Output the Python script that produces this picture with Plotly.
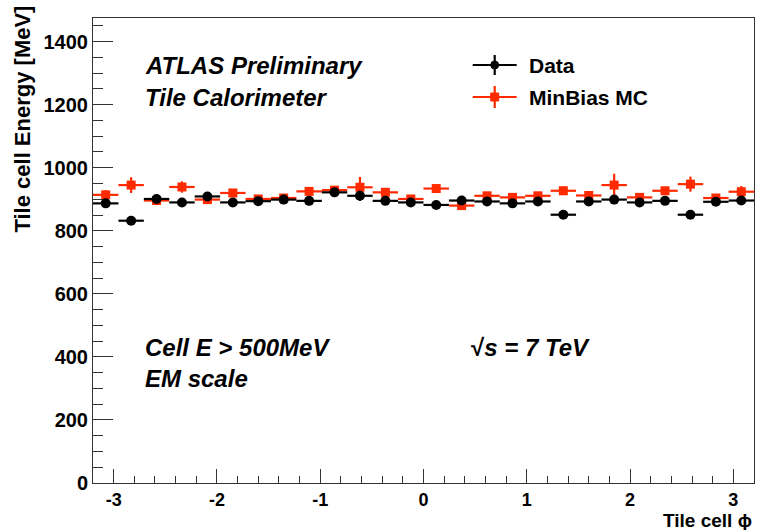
import numpy as np
import plotly.graph_objects as go

# ---- data ----
phi_min, phi_max, n_bins = -3.2, 3.2, 26
data_energy = [887, 832, 901, 890, 909, 890, 894, 899, 895, 922, 911, 895, 890,
               882, 896, 893, 887, 893, 851, 893, 899, 890, 895, 851, 892, 896]
data_err = [9, 8, 9, 9, 9, 9, 9, 9, 9, 9, 16, 9, 9,
            9, 9, 9, 9, 9, 9, 9, 9, 9, 9, 9, 9, 9]
mc_energy = [914, 945, 896, 939, 899, 920, 901, 904, 925, 929, 938, 922, 901,
             934, 880, 911, 906, 911, 927, 912, 945, 906, 927, 948, 904, 924]
mc_err = [15, 25, 10, 18, 10, 12, 10, 10, 12, 12, 33, 14, 10,
          12, 10, 12, 10, 12, 14, 10, 36, 10, 12, 24, 10, 18]
x_tick_vals = [-3, -2, -1, 0, 1, 2, 3]
y_tick_vals = [0, 200, 400, 600, 800, 1000, 1200, 1400]

bin_w = (phi_max - phi_min) / n_bins
phi = [phi_min + (i + 0.5) * bin_w for i in range(n_bins)]

RED = "#ff2a00"
FONT = "Liberation Sans"

# plot area in pixels (for paper-coordinate conversion of decorations)
L, R, T, B = 93, 754.5, 18, 483
W, H = R - L, B - T
def px(x):
    return (x - L) / W
def py(y):
    return (B - y) / H

fig = go.Figure()

fig.add_trace(go.Scatter(
    x=phi, y=mc_energy, mode="markers", name="MinBias MC",
    marker=dict(symbol="square", size=9, color=RED),
    error_x=dict(type="constant", value=bin_w / 2, width=0, thickness=2.2, color=RED),
    error_y=dict(type="data", array=mc_err, width=0, thickness=2.2, color=RED),
    showlegend=False,
))
fig.add_trace(go.Scatter(
    x=phi, y=data_energy, mode="markers", name="Data",
    marker=dict(symbol="circle", size=10, color="black"),
    error_x=dict(type="constant", value=bin_w / 2, width=0, thickness=2.2, color="black"),
    error_y=dict(type="data", array=data_err, width=0, thickness=2.2, color="black"),
    showlegend=False,
))

axis_common = dict(
    showgrid=False, zeroline=False, showline=True, linecolor="#333333",
    linewidth=1, mirror=True, ticks="inside", tickcolor="#333333",
)

fig.update_xaxes(
    range=[phi_min, phi_max], tickvals=x_tick_vals,
    ticktext=[str(v) for v in x_tick_vals], ticklen=14,
    tickfont=dict(family=FONT, size=18, color="black", weight="bold"),
    minor=dict(ticks="inside", dtick=0.2, tick0=0, ticklen=7, tickcolor="#333333"),
    **axis_common,
)
fig.update_yaxes(
    range=[0, 1475], tickvals=y_tick_vals,
    ticktext=[str(v) for v in y_tick_vals], ticklen=20,
    tickfont=dict(family=FONT, size=20, color="black", weight="bold"),
    minor=dict(ticks="inside", dtick=50, tick0=0, ticklen=10, tickcolor="#333333"),
    **axis_common,
)

ann = []
def text(x, y, s, size=24, xanchor="left", yanchor="middle", angle=0):
    ann.append(dict(x=x, y=y, xref="paper", yref="paper", text=s, showarrow=False,
                    xanchor=xanchor, yanchor=yanchor, textangle=angle,
                    font=dict(family=FONT, size=size, color="black")))

text(px(143), py(65), "<b><i>ATLAS Preliminary</i></b>")
text(px(143), py(97), "<b><i>Tile Calorimeter</i></b>")
text(px(143), py(347), "<b><i>Cell E &gt; 500MeV</i></b>")
text(px(143), py(378), "<b><i>EM scale</i></b>")
text(px(469), py(347), "<b>√<i>s</i><i> = 7 TeV</i></b>")
text(px(527), py(65), "<b>Data</b>", size=21)
text(px(527), py(97), "<b>MinBias MC</b>", size=21)
text(px(22), py(4), "<b>Tile cell Energy [MeV]</b>", size=22, xanchor="center",
     yanchor="top", angle=-90)
text(px(755), py(533), "<b>Tile cell ϕ</b>", size=19, xanchor="right", yanchor="bottom")

shapes = []
for yc, col, sym, vlen in [(65, "black", "circle", 10), (97, RED, "square", 11)]:
    shapes.append(dict(type="line", xref="paper", yref="paper",
                       x0=px(473), x1=px(517), y0=py(yc), y1=py(yc),
                       line=dict(color=col, width=2.2)))
    shapes.append(dict(type="line", xref="paper", yref="paper",
                       x0=px(495), x1=px(495), y0=py(yc - vlen), y1=py(yc + vlen),
                       line=dict(color=col, width=2.2)))
    shapes.append(dict(type=sym if sym == "circle" else "rect", xref="paper", yref="paper",
                       x0=px(491), x1=px(499), y0=py(yc - 4), y1=py(yc + 4),
                       fillcolor=col, line=dict(color=col, width=1)))

fig.update_layout(
    width=758, height=530,
    margin=dict(l=L, r=758 - R, t=T, b=530 - B),
    paper_bgcolor="white", plot_bgcolor="white",
    annotations=ann, shapes=shapes,
    font=dict(family=FONT, color="black"),
)

fig.write_html("out.html")
